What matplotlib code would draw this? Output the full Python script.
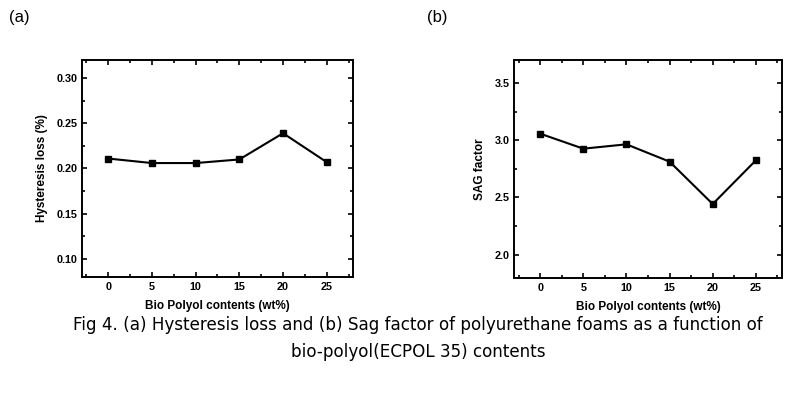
import matplotlib
matplotlib.use("Agg")
import matplotlib.pyplot as plt
from matplotlib.ticker import MultipleLocator

bio_polyol = [0, 5, 10, 15, 20, 25]
hysteresis_loss = [0.211, 0.206, 0.206, 0.210, 0.239, 0.207]
sag_factor = [3.057, 2.926, 2.964, 2.813, 2.443, 2.824]

x_label = "Bio Polyol contents (wt%)"
caption_1 = "Fig 4. (a) Hysteresis loss and (b) Sag factor of polyurethane foams as a function of"
caption_2 = "bio-polyol(ECPOL 35) contents"

plt.rcParams["font.family"] = ["Liberation Sans", "DejaVu Sans"]

fig = plt.figure(figsize=(7.9, 3.97), dpi=100)
ax_a = fig.add_axes([0.1038, 0.3023, 0.343, 0.5466])
ax_b = fig.add_axes([0.651, 0.3005, 0.3385, 0.5484])


def style_axes(ax, ylabel, ymaj, ymin):
    ax.set_xlim(-3, 28)
    ax.xaxis.set_major_locator(MultipleLocator(5))
    ax.xaxis.set_minor_locator(MultipleLocator(2.5))
    ax.yaxis.set_major_locator(MultipleLocator(ymaj))
    ax.yaxis.set_minor_locator(MultipleLocator(ymin))
    ax.tick_params(which="both", direction="in", top=True, right=True,
                   width=1.2, labelsize=7.8)
    ax.tick_params(which="major", length=3.5)
    ax.tick_params(which="minor", length=2)
    for lbl in ax.get_xticklabels() + ax.get_yticklabels():
        lbl.set_fontweight("bold")
    for sp in ax.spines.values():
        sp.set_linewidth(1.4)
    ax.set_xlabel(x_label, fontsize=8.5, fontweight="bold", labelpad=6)
    ax.set_ylabel(ylabel, fontsize=8.5, fontweight="bold", labelpad=6)


ax_a.plot(bio_polyol, hysteresis_loss, color="black", marker="s",
          markersize=5, linewidth=1.5)
ax_a.set_ylim(0.08, 0.32)
style_axes(ax_a, "Hysteresis loss (%)", 0.05, 0.025)

ax_b.plot(bio_polyol, sag_factor, color="black", marker="s",
          markersize=5, linewidth=1.5)
ax_b.set_ylim(1.8, 3.7)
style_axes(ax_b, "SAG factor", 0.5, 0.25)

fig.text(0.011, 0.975, "(a)", fontsize=12, va="top", ha="left")
fig.text(0.54, 0.975, "(b)", fontsize=12, va="top", ha="left")

fig.text(0.529, 0.181, caption_1, fontsize=12.1, ha="center", va="center",
         family="DejaVu Sans")
fig.text(0.529, 0.113, caption_2, fontsize=12.1, ha="center", va="center",
         family="DejaVu Sans")

fig.savefig("out.png", dpi=100)
